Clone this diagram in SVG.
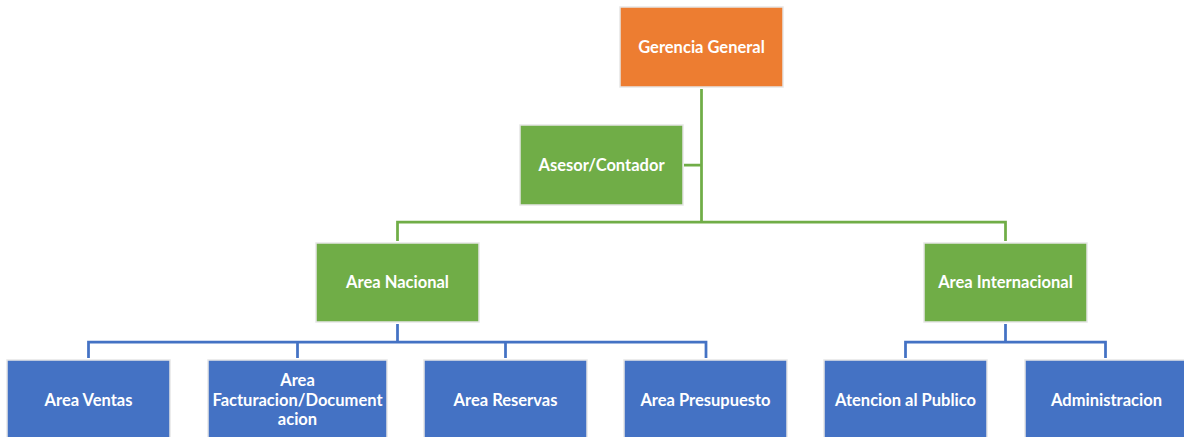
<svg xmlns="http://www.w3.org/2000/svg" width="1184" height="437" viewBox="0 0 1184 437">
<style>
.box{stroke:#e6e6e6;stroke-width:1.5}
.o{fill:#ED7D31}.g{fill:#70AD47}.b{fill:#4472C4}
text{font-family:Lato,"Liberation Sans",sans-serif;font-weight:bold;font-size:16.5px;fill:#ffffff;text-anchor:middle;dominant-baseline:central}
.cg{stroke:#70AD47;stroke-width:2.75;fill:none}
.cb{stroke:#4472C4;stroke-width:2.75;fill:none}
</style>
<rect width="1184" height="437" fill="#ffffff"/>
<g id="connectors">
<path class="cg" d="M701.5,89 V222 M684,165 H701.5 M397.5,241 V222 H1005.5 V241"/>
<path class="cb" d="M397.5,324 V342 M88.5,358 V342 H706 V358 M297.5,342 V358 M505.5,342 V358 M1005.5,324 V342 M905.5,358 V342 H1105.5 V358"/>
</g>
<g id="gerencia"><rect class="box o" x="620" y="7" width="163" height="80"/><text x="701.5" y="47">Gerencia General</text></g>
<g id="asesor"><rect class="box g" x="520" y="125" width="163" height="80"/><text x="601.5" y="165">Asesor/Contador</text></g>
<g id="nacional"><rect class="box g" x="316" y="243" width="163" height="79"/><text x="397.5" y="282">Area Nacional</text></g>
<g id="internacional"><rect class="box g" x="924" y="243" width="163" height="79"/><text x="1005.5" y="282">Area Internacional</text></g>
<g id="ventas"><rect class="box b" x="7" y="360" width="163" height="82"/><text x="88.5" y="400">Area Ventas</text></g>
<g id="facturacion"><rect class="box b" x="208" y="360" width="179" height="82"/><text x="297.5" y="380">Area</text><text x="297.5" y="400">Facturacion/Document</text><text x="297.5" y="419">acion</text></g>
<g id="reservas"><rect class="box b" x="424" y="360" width="163" height="82"/><text x="505.5" y="400">Area Reservas</text></g>
<g id="presupuesto"><rect class="box b" x="624" y="360" width="163" height="82"/><text x="705.5" y="400">Area Presupuesto</text></g>
<g id="atencion"><rect class="box b" x="824" y="360" width="163" height="82"/><text x="905.5" y="400">Atencion al Publico</text></g>
<g id="administracion"><rect class="box b" x="1025" y="360" width="163" height="82"/><text x="1106.5" y="400">Administracion</text></g>
</svg>
